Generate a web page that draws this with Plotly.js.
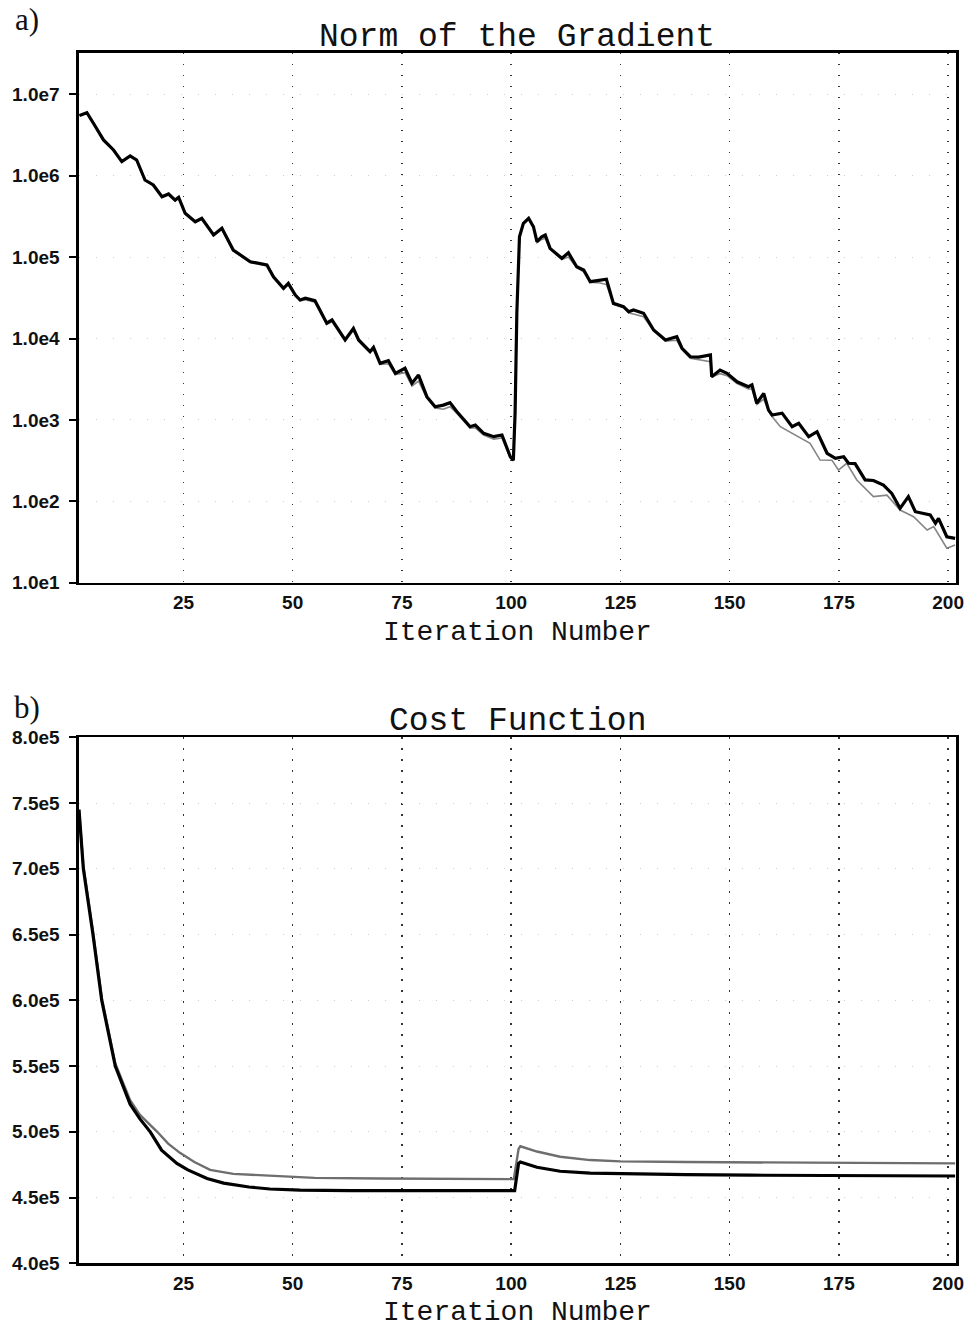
<!DOCTYPE html>
<html>
<head>
<meta charset="utf-8">
<script src="https://cdn.plot.ly/plotly-3.0.1.min.js"></script>
<style>html,body{margin:0;padding:0;background:#fff;}#chart{width:968px;height:1327px;}</style>
</head>
<body>
<div id="chart"></div>
<script>
// ---------- Panel a) Norm of the Gradient ----------
const gradIterBlack = [1.2,2.9,4.4,6.7,9.0,10.9,12.8,14.3,16.2,18.1,20.1,21.6,23.1,23.9,25.4,27.7,29.2,31.9,33.8,36.4,40.3,42.2,44.1,45.6,47.9,49.0,50.6,51.7,52.9,55.1,57.8,59.0,62.0,63.9,65.1,67.7,68.5,70.0,71.9,73.5,75.7,77.3,78.8,80.7,82.6,84.5,86.0,87.6,90.6,91.8,93.7,96.0,97.9,99.8,100.5,
  100.9,101.3,101.9,102.8,104.0,105.1,105.9,107.0,107.8,108.9,111.6,113.1,115.0,116.6,118.1,120.4,121.8,123.4,125.7,126.9,128.0,130.3,132.6,135.3,137.9,139.1,141.0,142.9,145.6,145.9,147.8,149.4,151.7,154.3,155.1,156.2,157.8,158.9,159.7,162.0,164.3,165.8,168.1,170.0,172.3,174.2,176.1,177.2,178.7,181.0,182.9,185.2,187.1,189.0,190.9,192.5,194.0,195.9,197.1,197.8,199.7,201.6];
const gradNormBlack = [5.5e6,5.94e6,4.41e6,2.75e6,2.07e6,1.49e6,1.75e6,1.56e6,8.85e5,7.69e5,5.52e5,5.96e5,5.02e5,5.43e5,3.45e5,2.72e5,3.0e5,1.87e5,2.26e5,1.22e5,8.77e4,8.39e4,8.0e4,5.74e4,4.14e4,4.76e4,3.42e4,2.97e4,3.12e4,2.91e4,1.54e4,1.69e4,9.59e3,1.33e4,9.59e3,6.89e3,7.8e3,4.95e3,5.33e3,3.73e3,4.31e3,2.82e3,3.56e3,1.93e3,1.45e3,1.52e3,1.63e3,1.26e3,824,865,684,622,652,353,321,
  1.22e3,2.06e4,1.78e5,2.6e5,3.0e5,2.36e5,1.55e5,1.78e5,1.87e5,1.28e5,9.66e4,1.13e5,7.62e4,6.95e4,4.99e4,5.24e4,5.34e4,2.7e4,2.46e4,2.13e4,2.24e4,2.04e4,1.27e4,9.59e3,1.05e4,7.59e3,5.97e3,5.9e3,6.27e3,3.4e3,4.1e3,3.73e3,2.94e3,2.56e3,2.69e3,1.6e3,2.12e3,1.32e3,1.15e3,1.21e3,824,908,622,716,389,337,353,293,290,183,180,158,125,82,114,74.5,71.3,67.9,53.7,61.8,36.7,35.1];

const gradIterGray = [1.2,2.9,4.4,6.7,9.0,10.9,12.8,14.3,16.2,18.1,20.1,21.6,23.1,23.9,25.4,27.7,29.2,31.9,33.8,36.4,40.3,42.2,44.1,45.6,47.9,49.0,50.6,51.7,52.9,55.1,57.8,59.0,62.0,63.9,65.1,67.7,68.5,70.0,71.9,73.5,75.7,77.3,78.8,80.7,82.6,84.5,86.0,87.6,90.6,91.8,93.7,96.0,97.9,99.8,100.5,
  100.9,101.3,101.9,102.8,104.0,105.1,105.9,107.0,107.8,108.9,111.6,113.1,115.0,116.6,118.1,120.4,121.8,123.4,125.7,126.9,128.0,130.3,132.6,135.3,137.9,139.1,141.0,142.9,145.6,145.9,147.8,149.4,151.7,154.3,155.1,156.2,157.8,158.9,159.7,161.6,164.3,168.4,170.7,173.4,174.9,176.8,179.1,182.9,186.0,189.0,192.1,195.2,196.7,199.7,201.6];
const gradNormGray = [5.5e6,5.9e6,4.4e6,2.7e6,2.05e6,1.5e6,1.72e6,1.52e6,8.7e5,7.6e5,5.5e5,5.8e5,5.0e5,5.3e5,3.4e5,2.7e5,2.9e5,1.85e5,2.2e5,1.2e5,8.6e4,8.2e4,7.8e4,5.6e4,4.1e4,4.6e4,3.4e4,2.9e4,3.0e4,2.8e4,1.5e4,1.6e4,9.4e3,1.25e4,9.3e3,6.7e3,7.3e3,4.8e3,4.9e3,3.6e3,3.8e3,2.6e3,3.0e3,1.85e3,1.4e3,1.35e3,1.45e3,1.2e3,790,800,650,580,600,340,315,
  1.2e3,2.0e4,1.75e5,2.55e5,2.95e5,2.3e5,1.5e5,1.65e5,1.7e5,1.25e5,9.4e4,1.0e5,7.4e4,6.6e4,4.9e4,4.8e4,4.6e4,2.65e4,2.4e4,2.05e4,2.0e4,1.85e4,1.25e4,9.3e3,9.5e3,7.3e3,5.7e3,5.5e3,5.2e3,3.4e3,3.7e3,3.5e3,2.8e3,2.4e3,2.4e3,1.55e3,1.8e3,1.3e3,1.1e3,824,684,516,321,320,242,293,183,114,119,78,64.7,44.4,48.8,26.5,29.0];

// ---------- Panel b) Cost Function ----------
const costIterBlack = [1.1,2.1,4.3,6.3,9.4,12.8,15.0,17.4,20.0,23.5,26.0,30.4,34.2,40.0,44.8,51.7,63.2,80,100.8,101.7,102.1,105.9,111.2,118.1,125,140,154.7,175,201.6];
const costBlack = [7.45e5,7.0e5,6.5e5,6.0e5,5.5e5,5.21e5,5.1e5,5.0e5,4.86e5,4.76e5,4.71e5,4.645e5,4.61e5,4.58e5,4.565e5,4.557e5,4.553e5,4.552e5,4.552e5,4.76e5,4.77e5,4.73e5,4.70e5,4.685e5,4.68e5,4.675e5,4.67e5,4.667e5,4.664e5];
const costIterGray = [1.1,2.1,4.3,6.3,9.4,12.8,15.0,19.0,21.5,24.2,27.5,31.1,36.4,44.8,55,70,85,100.6,101.7,102.1,105.9,111.2,118.1,125,140,154.7,175,201.6];
const costGray = [7.45e5,7.02e5,6.52e5,6.02e5,5.52e5,5.24e5,5.13e5,5.0e5,4.91e5,4.84e5,4.77e5,4.71e5,4.68e5,4.665e5,4.65e5,4.645e5,4.642e5,4.64e5,4.87e5,4.89e5,4.85e5,4.81e5,4.785e5,4.775e5,4.77e5,4.768e5,4.765e5,4.76e5];

// ---------- tick labels ----------
const xTickVals = [25,50,75,100,125,150,175,200];
const xTickText = ['25','50','75','100','125','150','175','200'];
const gradTickVals = [1e1,1e2,1e3,1e4,1e5,1e6,1e7];
const gradTickText = ['1.0e1','1.0e2','1.0e3','1.0e4','1.0e5','1.0e6','1.0e7'];
const costTickVals = [4.0e5,4.5e5,5.0e5,5.5e5,6.0e5,6.5e5,7.0e5,7.5e5,8.0e5];
const costTickText = ['4.0e5','4.5e5','5.0e5','5.5e5','6.0e5','6.5e5','7.0e5','7.5e5','8.0e5'];

const W = 968, H = 1327;
const tickFont = {family:'Liberation Sans, Arial, sans-serif', size:19, color:'#111', weight:700};
const monoFont = {family:'Liberation Mono, Courier New, monospace', color:'#111'};

function xAxis(anchor){
  return {
    domain:[79/W, 956/W], anchor:anchor, range:[1.1, 201.8],
    tickmode:'array', tickvals:xTickVals, ticktext:xTickText,
    ticks:'', ticklabelstandoff:1, tickfont:tickFont,
    showgrid:true, gridcolor:'#333', gridwidth:1.6, griddash:'1.6px,9.4px',
    showline:true, linecolor:'#000', linewidth:2.6, mirror:true,
    zeroline:false, fixedrange:true
  };
}
function yAxisBase(){
  return {
    tickmode:'array', ticks:'outside', ticklen:7, tickwidth:2, tickcolor:'#000', tickfont:tickFont,
    ticklabelstandoff:6,
    showgrid:true, gridcolor:'#d0d0d0', gridwidth:1, griddash:'1px,16px',
    showline:true, linecolor:'#000', linewidth:2.6, mirror:true, zeroline:false, fixedrange:true
  };
}

const traces = [
  {x:gradIterGray, y:gradNormGray, xaxis:'x', yaxis:'y', mode:'lines', line:{color:'#858585', width:1.6}, hoverinfo:'skip'},
  {x:gradIterBlack, y:gradNormBlack, xaxis:'x', yaxis:'y', mode:'lines', line:{color:'#000', width:3.2}, hoverinfo:'skip'},
  {x:costIterGray, y:costGray, xaxis:'x2', yaxis:'y2', mode:'lines', line:{color:'#6e6e6e', width:2.4}, hoverinfo:'skip'},
  {x:costIterBlack, y:costBlack, xaxis:'x2', yaxis:'y2', mode:'lines', line:{color:'#000', width:3.2}, hoverinfo:'skip'}
];

const layout = {
  width:W, height:H, margin:{l:0,r:0,t:0,b:0},
  paper_bgcolor:'#fff', plot_bgcolor:'#fff', showlegend:false,
  xaxis: xAxis('y'),
  yaxis: Object.assign(yAxisBase(), {
    domain:[1-582.7/H, 1-52.7/H], anchor:'x', type:'log', range:[1, 7.511],
    tickvals:gradTickVals, ticktext:gradTickText
  }),
  xaxis2: xAxis('y2'),
  yaxis2: Object.assign(yAxisBase(), {
    domain:[1-1263.3/H, 1-737.3/H], anchor:'x2', range:[4.0e5, 8.0e5],
    tickvals:costTickVals, ticktext:costTickText
  }),
  annotations:[
    {text:'a)', xref:'paper', yref:'paper', x:27/W, y:1-19/H, showarrow:false, xanchor:'center', yanchor:'middle',
     font:{family:'Liberation Serif, Times New Roman, serif', size:31, color:'#111'}},
    {text:'b)', xref:'paper', yref:'paper', x:27/W, y:1-707/H, showarrow:false, xanchor:'center', yanchor:'middle',
     font:{family:'Liberation Serif, Times New Roman, serif', size:31, color:'#111'}},
    {text:'Norm of the Gradient', xref:'paper', yref:'paper', x:517/W, y:1-37/H, showarrow:false, xanchor:'center', yanchor:'middle',
     font:Object.assign({size:33}, monoFont)},
    {text:'Cost Function', xref:'paper', yref:'paper', x:517/W, y:1-721/H, showarrow:false, xanchor:'center', yanchor:'middle',
     font:Object.assign({size:33}, monoFont)},
    {text:'Iteration Number', xref:'paper', yref:'paper', x:517/W, y:1-632/H, showarrow:false, xanchor:'center', yanchor:'middle',
     font:Object.assign({size:28}, monoFont)},
    {text:'Iteration Number', xref:'paper', yref:'paper', x:517/W, y:1-1312/H, showarrow:false, xanchor:'center', yanchor:'middle',
     font:Object.assign({size:28}, monoFont)}
  ]
};

Plotly.newPlot('chart', traces, layout, {staticPlot:true, displayModeBar:false});
</script>
</body>
</html>
